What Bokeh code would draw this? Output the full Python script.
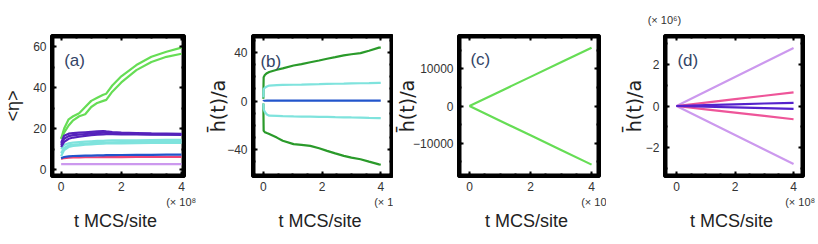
from bokeh.plotting import figure
from bokeh.models import Range1d, LinearAxis, Label, SingleIntervalTicker, CustomJSTickFormatter
from bokeh.layouts import row
from bokeh.embed import file_html
from bokeh.resources import INLINE

FONT = "Liberation Sans"

# ---------------- data ----------------
# x axis: t in units of 1e8 MCS/site; major tick every 2, minor every 0.5
x_tick = (2, 4)

# panel (a): <eta>
t_a = [0, 0.1, 0.25, 0.4, 0.6, 0.8, 1.0, 1.2, 1.4, 1.5, 1.7, 2.0, 2.5, 3.0, 3.5, 4.0]
a_green1 = [15, 20, 24.5, 26, 27.5, 30.5, 33.5, 35, 36.5, 37, 41, 45.5, 51, 55, 57.5, 59.5]
a_green2 = [15, 18, 21.5, 24, 26, 27, 30.5, 32.5, 33.5, 34, 38, 42.5, 48.5, 52.5, 55, 56.5]
a_purple1 = [13, 16.5, 17.5, 17.8, 18, 18.2, 18.4, 18.6, 18.8, 18.6, 18.3, 18, 17.8, 17.6, 17.5, 17.4]
a_purple2 = [12, 15, 16.3, 16.8, 17, 17.3, 17.6, 17.8, 18, 18, 17.8, 17.6, 17.4, 17.3, 17.2, 17.2]
a_purple3 = [11, 13.5, 15, 15.6, 16, 16.4, 16.8, 17, 17.2, 17.3, 17.3, 17.2, 17.1, 17, 17, 16.9]
a_cyan1 = [10, 12, 12.8, 13.2, 13.4, 13.6, 13.8, 14, 14, 14.1, 14.2, 14.2, 14.3, 14.4, 14.5, 14.5]
a_cyan2 = [8, 10.5, 11.8, 12.2, 12.4, 12.7, 12.9, 13, 13.1, 13.2, 13.3, 13.4, 13.5, 13.5, 13.6, 13.6]
a_cyan3 = [6.5, 9.5, 11, 11.5, 11.8, 12.1, 12.3, 12.5, 12.6, 12.7, 12.7, 12.8, 12.9, 13, 13, 13]
a_blue = [5.5, 6.1, 6.4, 6.6, 6.7, 6.8, 6.8, 6.9, 6.9, 7, 7, 7.1, 7.2, 7.2, 7.3, 7.3]
a_red = [5.2, 5.6, 5.8, 5.9, 5.9, 6, 6, 6, 6.1, 6.1, 6.1, 6.1, 6.2, 6.2, 6.2, 6.2]
a_lav = [2.6, 2.6, 2.6, 2.6, 2.6, 2.6, 2.6, 2.6, 2.6, 2.6, 2.6, 2.6, 2.6, 2.6, 2.6, 2.6]
a_y_tick = (20, 2)

# panel (b): h(t)/a
t_b = [0, 0.005, 0.01, 0.05, 0.12, 0.2, 0.46, 0.66, 1.03, 1.3, 1.6, 1.9, 2.17, 2.45, 2.74, 3.0, 3.31, 3.6, 3.94, 4.0]
b_green_up = [2, 12, 19.7, 21.5, 23, 24, 25.8, 27, 29.3, 30.5, 32, 33.4, 34.9, 36.2, 37.6, 38.6, 39.5, 41.5, 44, 44]
b_green_dn = [-2, -14, -24.4, -25.5, -26.3, -27.1, -30, -32.6, -35.4, -36, -36.8, -38.8, -40.9, -43, -45, -46.5, -47.8, -49.8, -52, -52.3]
b_cyan_up = [3, 8, 10, 11, 12, 12.8, 13.1, 13.3, 13.5, 13.6, 13.8, 14, 14.2, 14.3, 14.4, 14.6, 14.7, 14.8, 15, 15]
b_cyan_dn = [-2, -5, -6.5, -9, -11, -12, -12.2, -12.4, -12.6, -12.7, -12.8, -12.9, -13, -13.2, -13.3, -13.4, -13.5, -13.7, -13.9, -13.9]
b_blue = [0, 0.2, 0.3, 0.3, 0.4, 0.4, 0.4, 0.4, 0.4, 0.4, 0.4, 0.4, 0.4, 0.4, 0.4, 0.4, 0.4, 0.4, 0.4, 0.4]
b_y_tick = (40, 4)

# panel (c)
t_c = [0, 1, 2, 3, 4]
c_up = [0, 3930, 7850, 11780, 15700]
c_dn = [0, -3950, -7900, -11850, -15800]
c_y_tick = (10000, 2)

# panel (d) (values in units of 1e6)
t_d = [0, 1, 2, 3, 4]
d_lav_up = [0, 0.7, 1.4, 2.1, 2.8]
d_lav_dn = [0, -0.7, -1.4, -2.1, -2.8]
d_pink_up = [0, 0.165, 0.33, 0.495, 0.66]
d_pink_dn = [0, -0.16, -0.32, -0.48, -0.64]
d_ind_up = [0, 0.04, 0.08, 0.12, 0.15]
d_ind_dn = [0, -0.035, -0.07, -0.105, -0.14]
d_y_tick = (2, 2)

LGREEN = "#66dd55"
DGREEN = "#2a9a2a"
PURPLE = "#5522bb"
CYAN = "#7fe3dd"
BLUE = "#2255cc"
RED = "#ee4477"
LAV = "#cc99ee"
PINK = "#ee5599"
INDIGO = "#5522cc"
TICKC = "#333333"
PANELC = "#334466"
LABELC = "#222222"

FIG_H = 242
B_TOP = 35
B_BOTTOM = 66
FRAME_H = FIG_H - B_TOP - B_BOTTOM

EMPTY = CustomJSTickFormatter(code="return ''")


def style_axis(ax, tick, labels):
    ax.ticker = SingleIntervalTicker(interval=tick[0], num_minor_ticks=tick[1])
    ax.axis_line_color = None
    ax.major_tick_in = 5
    ax.major_tick_out = 0
    ax.minor_tick_in = 3
    ax.minor_tick_out = 0
    ax.major_tick_line_width = 2
    ax.minor_tick_line_width = 2
    ax.major_tick_line_color = "black"
    ax.minor_tick_line_color = "black"
    if labels:
        ax.major_label_text_font = FONT
        ax.major_label_text_font_size = "12px"
        ax.major_label_text_color = TICKC
        ax.major_label_standoff = 5
    else:
        ax.formatter = EMPTY
        ax.major_label_text_color = None
        ax.major_label_standoff = 0


def label_axis(text, size, color, standoff, align):
    """An axis that carries only a text label (no rule, ticks or tick labels)."""
    ax = LinearAxis(ticker=SingleIntervalTicker(interval=1e9, num_minor_ticks=0))
    ax.formatter = EMPTY
    ax.axis_line_color = None
    ax.major_tick_line_color = None
    ax.minor_tick_line_color = None
    ax.major_tick_in = 0
    ax.major_tick_out = 0
    ax.minor_tick_in = 0
    ax.minor_tick_out = 0
    ax.major_label_text_color = None
    ax.major_label_text_font_size = "1px"
    ax.major_label_standoff = 0
    ax.axis_label = text
    ax.axis_label_text_font = FONT
    ax.axis_label_text_font_size = size
    ax.axis_label_text_font_style = "normal"
    ax.axis_label_text_color = color
    ax.axis_label_standoff = standoff
    try:
        ax.axis_label_align = align
    except Exception:
        pass
    return ax


def make_panel(width, xr, yr, ytick, ylabel, lab_font, lab_size, lab_stand, tag, tag_xy, borders,
               exp_top=None):
    p = figure(width=width, height=FIG_H, x_range=Range1d(*xr), y_range=Range1d(*yr),
               output_backend="svg", toolbar_location=None,
               min_border_left=borders[0], min_border_right=borders[1],
               min_border_top=B_TOP, min_border_bottom=B_BOTTOM)
    p.xgrid.visible = False
    p.ygrid.visible = False
    p.outline_line_color = "black"
    p.outline_line_width = 3
    style_axis(p.xaxis[0], x_tick, True)
    style_axis(p.yaxis[0], ytick, True)
    ya = p.yaxis[0]
    ya.axis_label = ylabel
    ya.axis_label_text_font = lab_font
    ya.axis_label_text_font_size = lab_size
    ya.axis_label_text_font_style = "normal"
    ya.axis_label_text_color = LABELC
    ya.axis_label_standoff = lab_stand
    top = LinearAxis()
    style_axis(top, x_tick, False)
    p.add_layout(top, "above")
    right = LinearAxis()
    style_axis(right, ytick, False)
    p.add_layout(right, "right")
    # below the tick labels: the scale factor, then the axis title
    p.add_layout(label_axis("(× 10⁸ )", "11px", TICKC, 2, "end"), "below")
    p.add_layout(label_axis("t  MCS/site", "18px", LABELC, 0, "center"), "below")
    if exp_top:
        p.add_layout(label_axis(exp_top, "11px", TICKC, 10, "start"), "above")
    # frame box: a 3px black border lying just inside the plotting area
    frame_w = width - borders[0] - borders[1]
    x0, x1 = xr
    y0, y1 = yr
    dx = 1.5 * (x1 - x0) / frame_w
    dy = 1.5 * (y1 - y0) / FRAME_H
    bx = [x0 + dx, x1 - dx, x1 - dx, x0 + dx, x0 + dx]
    by = [y0 + dy, y0 + dy, y1 - dy, y1 - dy, y0 + dy]
    p.line(bx, by, line_color="#000000", line_width=3)
    p.add_layout(Label(x=tag_xy[0], y=tag_xy[1], text=tag, text_font=FONT, text_font_size="17px",
                       text_color=PANELC, text_baseline="middle"))
    return p


pa = make_panel(196, (-0.32, 4.1), (-3.4, 65.4), a_y_tick, "<η>", FONT, "18px", 7,
                "(a)", (0.1, 53), (47, 12))
for ys, c in [(a_green1, LGREEN), (a_green2, LGREEN), (a_cyan3, CYAN), (a_cyan2, CYAN), (a_cyan1, CYAN),
              (a_purple3, PURPLE), (a_purple2, PURPLE), (a_purple1, PURPLE),
              (a_lav, LAV), (a_red, RED), (a_blue, BLUE)]:
    pa.line(t_a, ys, line_color=c, line_width=2.2)

pb = make_panel(197, (-0.37, 4.4), (-62, 54), b_y_tick, "h̄(t)/a", "DejaVu Sans", "19px", -5,
                "(b)", (-0.1, 33), (56, 1))
for ys, c in [(b_green_up, DGREEN), (b_green_dn, DGREEN), (b_cyan_up, CYAN), (b_cyan_dn, CYAN),
              (b_blue, BLUE)]:
    pb.line(t_b, ys, line_color=c, line_width=2.2)

pc = make_panel(213, (-0.36, 4.26), (-19000, 19000), c_y_tick, "h̄(t)/a", "DejaVu Sans", "19px", -8,
                "(c)", (0.03, 12400), (65, 7))
for ys, c in [(c_up, LGREEN), (c_dn, LGREEN)]:
    pc.line(t_c, ys, line_color=c, line_width=2.2)

pd_ = make_panel(210, (-0.41, 4.34), (-3.4, 3.4), d_y_tick, "h̄(t)/a", "DejaVu Sans", "19px", -2,
                 "(d)", (0.03, 2.2), (58, 13), exp_top="(× 10⁶)")
for ys, c in [(d_lav_up, LAV), (d_lav_dn, LAV), (d_pink_up, PINK), (d_pink_dn, PINK),
              (d_ind_up, INDIGO), (d_ind_dn, INDIGO)]:
    pd_.line(t_d, ys, line_color=c, line_width=2.2)

layout = row(pa, pb, pc, pd_, spacing=0)
open("out.html", "w").write(file_html(layout, INLINE))
